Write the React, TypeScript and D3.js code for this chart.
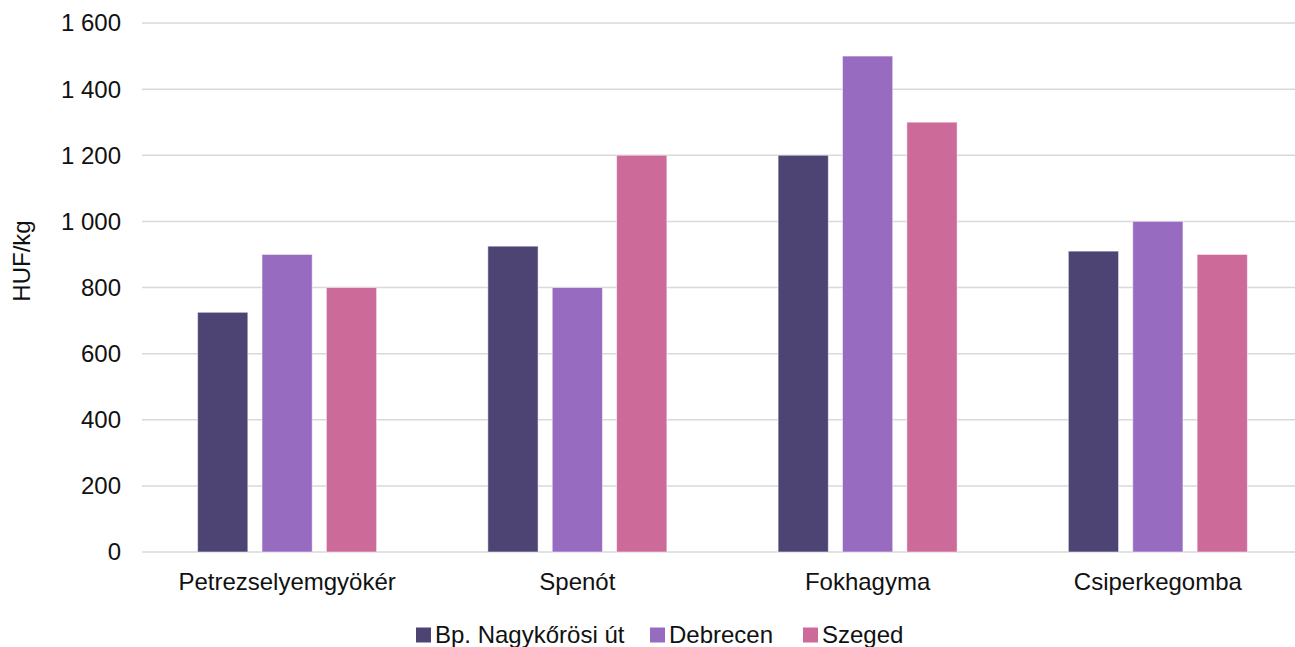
import { useEffect, useRef } from "react"
import * as d3 from "d3"

const categories = ["Petrezselyemgyökér", "Spenót", "Fokhagyma", "Csiperkegomba"]
const seriesNames = ["Bp. Nagykőrösi út", "Debrecen", "Szeged"]
const budapest = [725, 925, 1200, 910]
const debrecen = [900, 800, 1500, 1000]
const szeged = [800, 1200, 1300, 900]
const yTicks = [0, 200, 400, 600, 800, 1000, 1200, 1400, 1600]
const colors = ["#4e4474", "#976cc0", "#cc6a99"]

const fontFamily = "'Liberation Sans', Arial, sans-serif"

export default function App() {
  const svgRef = useRef<SVGSVGElement>(null)

  useEffect(() => {
    document.body.style.margin = "0"
    if (!svgRef.current) return

    const width = 1295
    const height = 647
    const margin = { top: 23, bottom: 95, left: 142 }
    const plotRight = 1303 // plot area runs past the right edge of the picture
    const groupOffset = 55.6
    const groupWidth = 179

    const svg = d3.select(svgRef.current)
    svg.selectAll("*").remove()
    svg.attr("width", width).attr("height", height).style("display", "block")

    const values = [budapest, debrecen, szeged]

    const x0 = d3.scaleBand<string>().domain(categories).range([margin.left, plotRight]).padding(0)

    const x1 = d3
      .scaleBand<string>()
      .domain(seriesNames)
      .range([groupOffset, groupOffset + groupWidth])
      .paddingInner(0.22)
      .paddingOuter(0)

    const y = d3
      .scaleLinear()
      .domain([0, 1600])
      .range([height - margin.bottom, margin.top])

    const fmt = d3.formatLocale({ decimal: ",", thousands: " ", grouping: [3], currency: ["", ""] }).format(",")

    // gridlines
    svg
      .append("g")
      .selectAll("line")
      .data(yTicks)
      .join("line")
      .attr("x1", margin.left)
      .attr("x2", plotRight)
      .attr("y1", (d) => y(d))
      .attr("y2", (d) => y(d))
      .attr("stroke", "#d9d9d9")
      .attr("stroke-width", 1.5)

    // y tick labels
    svg
      .append("g")
      .selectAll("text")
      .data(yTicks)
      .join("text")
      .attr("x", 121)
      .attr("y", (d) => y(d))
      .attr("dy", "0.35em")
      .attr("text-anchor", "end")
      .attr("font-family", fontFamily)
      .attr("font-size", 24)
      .attr("fill", "#111")
      .text((d) => fmt(d))

    // bars
    const groups = svg
      .append("g")
      .selectAll("g")
      .data(categories)
      .join("g")
      .attr("transform", (c) => `translate(${x0(c)},0)`)

    groups
      .selectAll("rect")
      .data((c) => seriesNames.map((s, k) => ({ s, k, v: values[k][categories.indexOf(c)] })))
      .join("rect")
      .attr("x", (d) => x1(d.s) as number)
      .attr("width", x1.bandwidth())
      .attr("y", (d) => y(d.v))
      .attr("height", (d) => y(0) - y(d.v))
      .attr("fill", (d) => colors[d.k])
      .attr("stroke", "rgba(255,255,255,0.5)")
      .attr("stroke-width", 1)

    // category labels
    svg
      .append("g")
      .selectAll("text")
      .data(categories)
      .join("text")
      .attr("x", (c) => (x0(c) as number) + groupOffset + groupWidth / 2)
      .attr("y", 582)
      .attr("dy", "0.35em")
      .attr("text-anchor", "middle")
      .attr("font-family", fontFamily)
      .attr("font-size", 24)
      .attr("fill", "#111")
      .text((c) => c)

    // y axis title
    svg
      .append("text")
      .attr("transform", "translate(22,261) rotate(-90)")
      .attr("dy", "0.35em")
      .attr("text-anchor", "middle")
      .attr("font-family", fontFamily)
      .attr("font-size", 24)
      .attr("fill", "#111")
      .text("HUF/kg")

    // legend
    const legendX = [416, 650, 803]
    const legend = svg
      .append("g")
      .selectAll("g")
      .data(seriesNames)
      .join("g")
      .attr("transform", (_, i) => `translate(${legendX[i]},635)`)

    legend
      .append("rect")
      .attr("x", 0)
      .attr("y", -7.5)
      .attr("width", 15)
      .attr("height", 15)
      .attr("fill", (_, i) => colors[i])

    legend
      .append("text")
      .attr("x", 19)
      .attr("y", 0)
      .attr("dy", "0.35em")
      .attr("font-family", fontFamily)
      .attr("font-size", 24)
      .attr("fill", "#111")
      .text((d) => d)
  }, [])

  return <svg ref={svgRef} />
}
